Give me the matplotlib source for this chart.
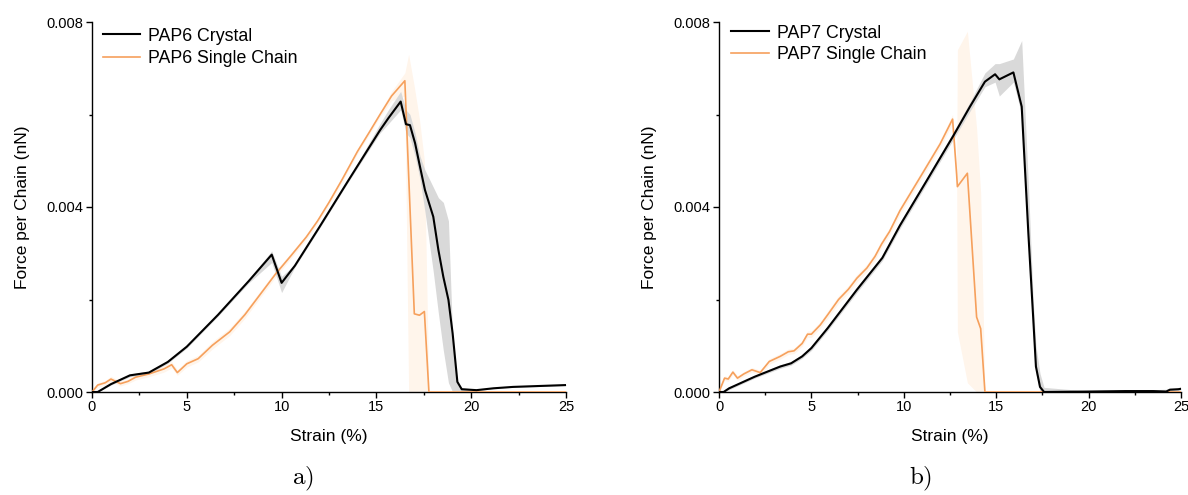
import matplotlib
matplotlib.use("Agg")
import matplotlib.pyplot as plt
from matplotlib.ticker import MultipleLocator, FormatStrFormatter

plt.rcParams['font.family'] = ['Liberation Sans', 'DejaVu Sans']
plt.rcParams['mathtext.fontset'] = 'cm'

# ---- panel a) PAP6 ----
pap6_crystal_strain = [0, 0.3, 1.0, 2.0, 3.0, 4.0, 5.0, 6.65, 8.27, 9.48, 10.0, 10.7, 12.0, 13.5,
                       15.19, 15.63, 16.28, 16.56, 16.77, 17.04, 17.3, 17.56, 18.0, 18.27, 18.53,
                       18.8, 19.02, 19.27, 19.5, 20.28, 21.17, 22.2, 23.6, 25.0]
pap6_crystal_force = [0, 0, 0.00017, 0.00036, 0.00042, 0.00065, 0.00098, 0.00167, 0.0024, 0.00297,
                      0.00236, 0.00273, 0.00357, 0.00456, 0.00566, 0.00592, 0.00628, 0.00579,
                      0.00577, 0.00538, 0.00487, 0.00437, 0.00379, 0.00307, 0.00249, 0.00199,
                      0.00127, 0.00022, 0.00006, 0.00004, 0.00008, 0.00011, 0.00013, 0.00015]
pap6_crystal_low = [0, 0, 0.00015, 0.00033, 0.00039, 0.00062, 0.00095, 0.00164, 0.00236, 0.0028,
                    0.00215, 0.0027, 0.00354, 0.00453, 0.0056, 0.0058, 0.0061, 0.0056, 0.0055,
                    0.0051, 0.0046, 0.0039, 0.0026, 0.0017, 0.0009, 0.0002, 0, 0, 0, 0.00003,
                    0.00007, 0.0001, 0.00012, 0.00014]
pap6_crystal_high = [0, 0.00002, 0.00019, 0.00039, 0.00045, 0.00068, 0.00101, 0.0017, 0.00244,
                     0.00305, 0.0025, 0.00276, 0.0036, 0.00459, 0.0058, 0.0061, 0.0065, 0.0061,
                     0.006, 0.0056, 0.0051, 0.0048, 0.00443, 0.0042, 0.0041, 0.0037, 0.0012,
                     0.0002, 0.0001, 0.00005, 0.00009, 0.00012, 0.00014, 0.00016]

pap6_single_strain = [0, 0.3, 0.7, 1.0, 1.5, 1.9, 2.3, 3.0, 3.8, 4.2, 4.5, 5.0, 5.6, 6.35, 7.26,
                      8.06, 8.87, 9.68, 10.5, 11.3, 11.9, 12.5, 13.2, 14.0, 14.6, 15.19, 15.8,
                      16.5, 16.7, 17.0, 17.27, 17.53, 17.77, 20.0, 25.0]
pap6_single_force = [0, 0.00015, 0.0002, 0.00028, 0.00018, 0.00023, 0.00032, 0.00039, 0.0005,
                     0.00059, 0.00042, 0.00061, 0.00072, 0.00101, 0.0013, 0.00167, 0.00211,
                     0.00255, 0.00295, 0.00335, 0.0037, 0.0041, 0.0046, 0.0052, 0.0056, 0.006,
                     0.0064, 0.00673, 0.0047, 0.00169, 0.00166, 0.00174, 0, 0, 0]
pap6_single_low = [0, 0.0001, 0.00015, 0.00022, 0.00013, 0.00018, 0.00026, 0.00033, 0.00043,
                   0.00052, 0.00036, 0.00054, 0.00065, 0.00093, 0.00122, 0.00159, 0.00204,
                   0.00248, 0.00289, 0.0033, 0.00365, 0.00405, 0.00455, 0.00515, 0.00555,
                   0.00595, 0.0063, 0.0064, 0, 0, 0, 0, 0, 0, 0]
pap6_single_high = [0, 0.0002, 0.00025, 0.00034, 0.00023, 0.00028, 0.00038, 0.00045, 0.00057,
                    0.00066, 0.00048, 0.00068, 0.00079, 0.00109, 0.00138, 0.00175, 0.00218,
                    0.00262, 0.00301, 0.0034, 0.00375, 0.00415, 0.00465, 0.00525, 0.00565,
                    0.00605, 0.0065, 0.0069, 0.0073, 0.0066, 0.0059, 0.005, 0, 0, 0]

# ---- panel b) PAP7 ----
pap7_crystal_strain = [0, 0.25, 0.55, 1.93, 3.31, 3.9, 4.5, 5.0, 5.88, 7.46, 8.84, 9.79, 11.24,
                       12.68, 13.58, 14.39, 14.94, 15.17, 15.93, 16.38, 16.74, 17.0, 17.15, 17.37,
                       17.59, 20.0, 22.0, 23.5, 24.2, 24.4, 24.85, 25.0]
pap7_crystal_force = [0, 0, 0.00008, 0.00033, 0.00055, 0.00062, 0.00077, 0.00095, 0.00138,
                      0.00221, 0.0029, 0.0036, 0.00457, 0.00554, 0.00617, 0.00671, 0.00687,
                      0.00676, 0.00691, 0.00617, 0.00343, 0.00162, 0.00055, 0.00011, 0,
                      0.00001, 0.00002, 0.00002, 0.00001, 0.00005, 0.00006, 0.00007]
pap7_crystal_low = [0, 0, 0.00005, 0.0003, 0.00051, 0.00058, 0.00073, 0.0009, 0.00133, 0.00215,
                    0.00284, 0.00353, 0.0045, 0.00546, 0.00607, 0.0066, 0.0067, 0.0064, 0.0067,
                    0.006, 0.0032, 0.0012, 0.0004, 0, 0, 0, 0, 0, 0, 0.00002, 0.00003, 0.00005]
pap7_crystal_high = [0, 0.00002, 0.00011, 0.00036, 0.00059, 0.00066, 0.00081, 0.001, 0.00143,
                     0.00227, 0.00296, 0.00367, 0.00464, 0.00562, 0.00627, 0.0069, 0.0071,
                     0.0071, 0.0072, 0.0076, 0.0045, 0.002, 0.001, 0.0004, 0.0001, 0.00002,
                     0.00004, 0.00005, 0.00006, 0.00008, 0.00008, 0.00009]

pap7_single_strain = [0, 0.1, 0.3, 0.5, 0.75, 1.0, 1.34, 1.78, 2.23, 2.72, 3.31, 3.75, 4.06, 4.5,
                      4.79, 5.0, 5.48, 5.9, 6.47, 7.0, 7.46, 8.0, 8.44, 8.8, 9.23, 9.79, 10.88,
                      11.96, 12.64, 12.86, 12.9, 13.44, 13.94, 14.16, 14.39, 16.5, 25.0]
pap7_single_force = [0, 0.0001, 0.0003, 0.00028, 0.00043, 0.0003, 0.00039, 0.00048, 0.00042,
                     0.00066, 0.00077, 0.00087, 0.00089, 0.00105, 0.00125, 0.00125, 0.00145,
                     0.00168, 0.002, 0.00222, 0.00246, 0.00268, 0.00293, 0.0032, 0.00347,
                     0.00392, 0.00464, 0.00536, 0.0059, 0.0047, 0.00444, 0.00473, 0.00162,
                     0.00137, 0, 0, 0]
pap7_single_low = [0, 0.00006, 0.00025, 0.00023, 0.00038, 0.00025, 0.00034, 0.00043, 0.00037,
                   0.0006, 0.00071, 0.00081, 0.00083, 0.00099, 0.00118, 0.00118, 0.00138,
                   0.0016, 0.00192, 0.00214, 0.00238, 0.0026, 0.00285, 0.00312, 0.00339,
                   0.00384, 0.00456, 0.00528, 0.0058, 0.0046, 0.0013, 0.0002, 0, 0, 0, 0, 0]
pap7_single_high = [0, 0.00014, 0.00035, 0.00033, 0.00048, 0.00035, 0.00044, 0.00053, 0.00047,
                    0.00072, 0.00083, 0.00093, 0.00095, 0.00111, 0.00132, 0.00132, 0.00152,
                    0.00176, 0.00208, 0.0023, 0.00254, 0.00276, 0.00301, 0.00328, 0.00355,
                    0.004, 0.00472, 0.00544, 0.006, 0.0048, 0.0074, 0.0078, 0.0057, 0.0043, 0,
                    0, 0]

BLACK = '#000000'
ORANGE = '#f6a05c'
GRAY_BAND = '#d9d9d9'
ORANGE_BAND = '#fff5eb'


def draw_panel(ax, crystal, single, names, legend_anchor, spacing):
    cs, cf, cl, ch = crystal
    ss, sf, sl, sh = single
    ax.fill_between(ss, sl, sh, color=ORANGE_BAND, lw=0, zorder=1)
    ax.fill_between(cs, cl, ch, color=GRAY_BAND, lw=0, zorder=1)
    ax.plot(ss, sf, color=ORANGE, lw=1.2, zorder=3, label=names[1])
    ax.plot(cs, cf, color=BLACK, lw=1.5, zorder=4, label=names[0])

    ax.set_xlim(0, 25)
    ax.set_ylim(0, 0.008)
    ax.xaxis.set_major_locator(MultipleLocator(5))
    ax.xaxis.set_minor_locator(MultipleLocator(2.5))
    ax.yaxis.set_major_locator(MultipleLocator(0.004))
    ax.yaxis.set_minor_locator(MultipleLocator(0.002))
    ax.yaxis.set_major_formatter(FormatStrFormatter('%.3f'))
    ax.spines['top'].set_visible(False)
    ax.spines['right'].set_visible(False)
    for s in ('left', 'bottom'):
        ax.spines[s].set_linewidth(1.0)
    ax.tick_params(which='major', direction='out', length=4, width=1.0, labelsize=10.5, pad=2)
    ax.tick_params(which='minor', direction='out', length=2.5, width=1.0)
    ax.set_xlabel('Strain (%)', fontsize=12.5, labelpad=10.5)
    ax.set_ylabel('Force per Chain (nN)', fontsize=12.5, labelpad=12)

    h, l = ax.get_legend_handles_labels()
    ax.legend(h[::-1], l[::-1], loc='upper left', bbox_to_anchor=legend_anchor,
              frameon=False, fontsize=12.8, handlelength=2.1, handletextpad=0.45,
              labelspacing=spacing, borderaxespad=0)


fig = plt.figure(figsize=(11.88, 4.95), dpi=100)
ax1 = fig.add_axes([92 / 1188, 1 - 392 / 495, 474 / 1188, 370 / 495])
ax2 = fig.add_axes([719 / 1188, 1 - 392 / 495, 462 / 1188, 370 / 495])

draw_panel(ax1,
           (pap6_crystal_strain, pap6_crystal_force, pap6_crystal_low, pap6_crystal_high),
           (pap6_single_strain, pap6_single_force, pap6_single_low, pap6_single_high),
           ('PAP6 Crystal', 'PAP6 Single Chain'), (0.008, 1.004), 0.32)
draw_panel(ax2,
           (pap7_crystal_strain, pap7_crystal_force, pap7_crystal_low, pap7_crystal_high),
           (pap7_single_strain, pap7_single_force, pap7_single_low, pap7_single_high),
           ('PAP7 Crystal', 'PAP7 Single Chain'), (0.011, 1.012), 0.27)

fig.text(303 / 1188, 1 - 479 / 495, r'$\mathrm{a)}$', ha='center', va='center', fontsize=18)
fig.text(921 / 1188, 1 - 479 / 495, r'$\mathrm{b)}$', ha='center', va='center', fontsize=18)

fig.savefig('out.png', dpi=100)
